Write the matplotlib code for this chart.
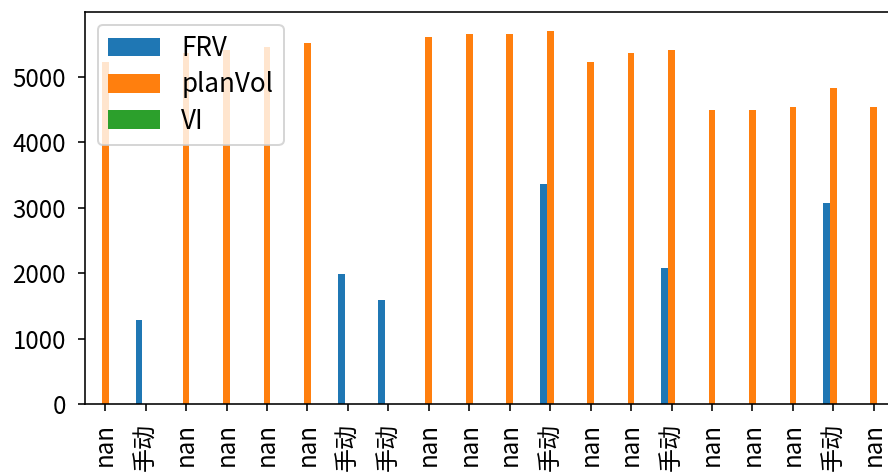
import numpy as np
import pandas as pd
import matplotlib
matplotlib.use("Agg")
import matplotlib.pyplot as plt

plt.rcParams['font.family'] = ['Noto Sans CJK SC', 'DejaVu Sans']
plt.rcParams['axes.unicode_minus'] = False
plt.rcParams['font.size'] = 12

nan = np.nan
labels = ["nan", "手动", "nan", "nan", "nan", "nan", "手动", "手动", "nan", "nan",
          "nan", "手动", "nan", "nan", "手动", "nan", "nan", "nan", "手动", "nan"]
frv = [nan, 1285, nan, nan, nan, nan, 1990, 1590, nan, nan,
       nan, 3365, nan, nan, 2080, nan, nan, nan, 3072, nan]
plan_vol = [5230, nan, 5370, 5413, 5459, 5520, nan, nan, 5612, 5657,
            5657, 5705, 5229, 5367, 5413, 4495, 4495, 4541, 4832, 4541]
vi = [nan] * 20

df = pd.DataFrame({"FRV": frv, "planVol": plan_vol, "VI": vi}, index=labels)

dpi = 144
fig = plt.figure(figsize=(888 / dpi, 472 / dpi), dpi=dpi)
ax = fig.add_axes([85 / 888, 68 / 472, 809 / 888, 392 / 472])
df.plot.bar(ax=ax)
ax.set_ylim(0, 5995)
ax.tick_params(axis="both", pad=6)
ax.legend(loc="upper left", fontsize=13, labelspacing=0.35)

fig.savefig("out.png", dpi=dpi)
